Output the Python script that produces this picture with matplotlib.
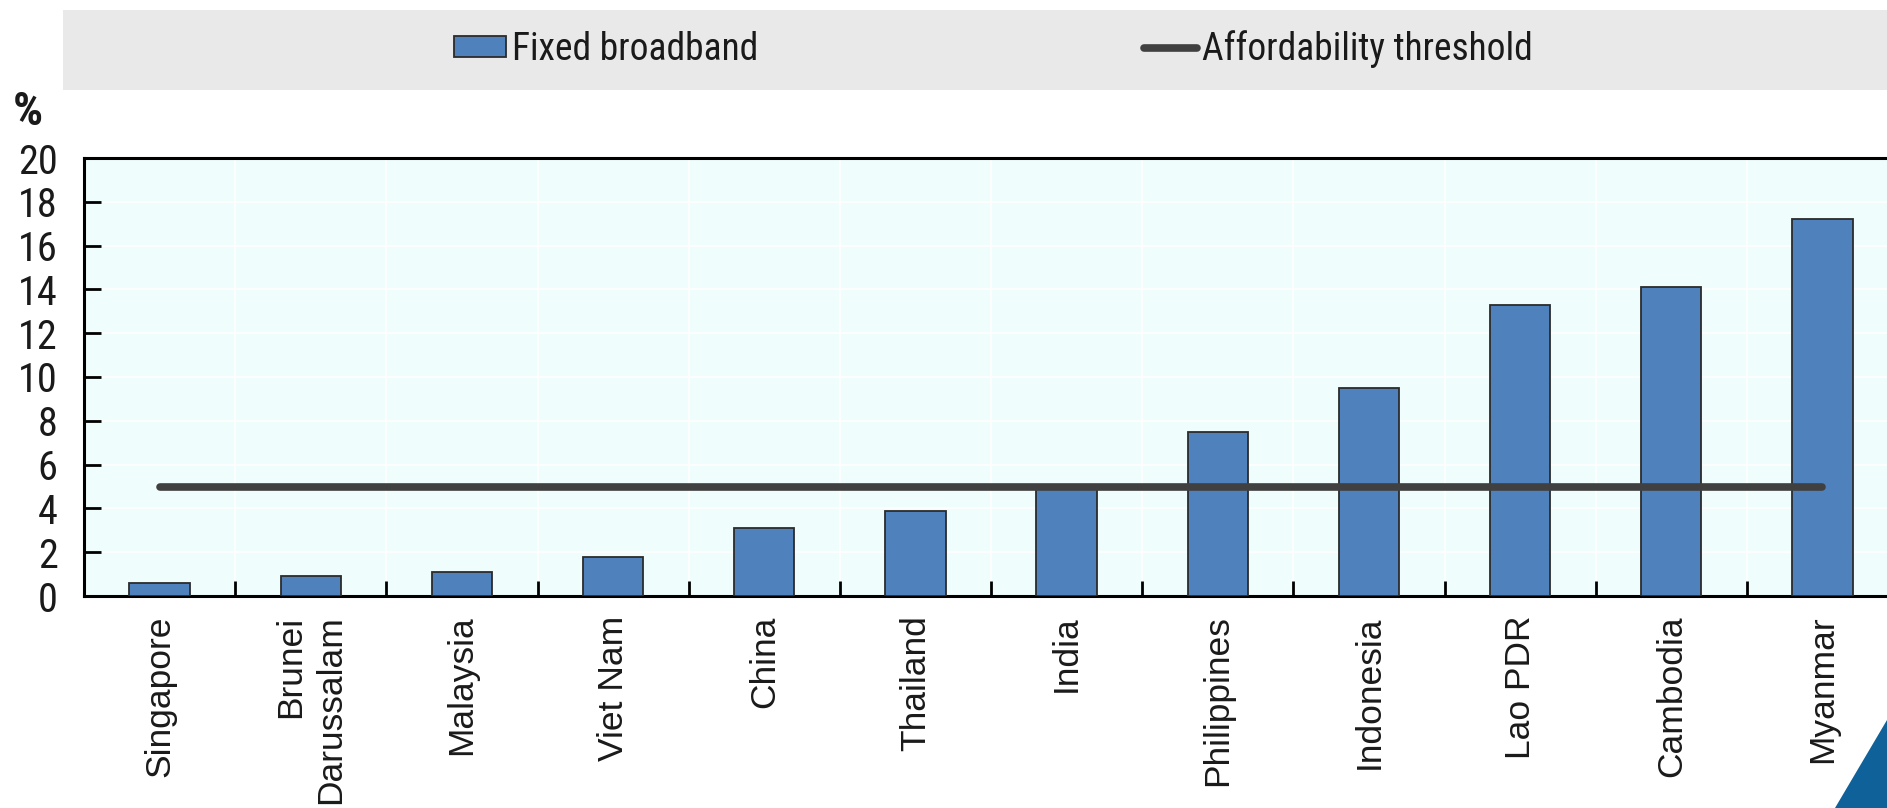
import matplotlib
matplotlib.use("Agg")
import matplotlib.pyplot as plt
from matplotlib.patches import Rectangle, Polygon, Patch
from matplotlib.lines import Line2D
from matplotlib.ticker import MultipleLocator

countries = ["Singapore", "Brunei\nDarussalam", "Malaysia", "Viet Nam", "China", "Thailand",
             "India", "Philippines", "Indonesia", "Lao PDR", "Cambodia", "Myanmar"]
fixed_broadband = [0.6, 0.9, 1.1, 1.8, 3.1, 3.9, 5.0, 7.5, 9.5, 13.3, 14.1, 17.2]
threshold = [5] * len(countries)

narrow = ["Roboto Condensed", "DejaVu Sans"]
regular = ["Liberation Sans", "DejaVu Sans"]
text_col = "#1a1a1a"

fig = plt.figure(figsize=(18.87, 8.08), dpi=100)

# grey legend band and corner mark
fig.patches.append(Rectangle((63 / 1887, 1 - 90 / 808), 1 - 63 / 1887, 80 / 808,
                             transform=fig.transFigure, facecolor="#e9e9e9",
                             edgecolor="none", zorder=0))
fig.patches.append(Polygon([(1835 / 1887, 0), (1, 0), (1, 88 / 808)], closed=True,
                           transform=fig.transFigure, facecolor="#0f6199",
                           edgecolor="none", zorder=5))

ax = fig.add_axes([84 / 1887, 212 / 808, 1814 / 1887, 438 / 808])
ax.set_facecolor("#f0fdfd")

x = range(len(countries))
ax.bar(x, fixed_broadband, width=0.4, color="#4f81bd", edgecolor="#2b2b2b",
       linewidth=1.3, zorder=3)
ax.plot(x, threshold, color="#404040", linewidth=5.5, solid_capstyle="round", zorder=4)

ax.set_xlim(-0.5, len(countries) - 0.5)
ax.set_ylim(0, 20)
ax.yaxis.set_major_locator(MultipleLocator(2))

ax.set_xticks(list(x))
ax.set_xticklabels(countries, rotation=90, family=regular, fontsize=25.5,
                   multialignment="right", linespacing=1.25, color=text_col)
ax.set_xticks([i + 0.5 for i in range(len(countries) - 1)], minor=True)
ax.tick_params(axis="x", which="major", length=0, pad=14)
ax.tick_params(axis="x", which="minor", direction="in", length=11, width=2, color="black")
ax.tick_params(axis="y", direction="in", length=12, width=2, pad=19)
for lbl in ax.get_yticklabels():
    lbl.set_family(narrow)
    lbl.set_fontsize(29)
    lbl.set_color(text_col)

ax.grid(True, which="minor", axis="x", color="white", linewidth=1.2, zorder=0)
ax.grid(True, which="major", axis="y", color="white", linewidth=1.2, zorder=0)
ax.set_axisbelow(True)

for side in ["left", "bottom", "top", "right"]:
    ax.spines[side].set_linewidth(2.2)
    ax.spines[side].set_color("black")

fig.text(13 / 1887, 1 - 112 / 808, "%", family=narrow, fontsize=34,
         fontweight="bold", va="center", ha="left", color=text_col)

handles = [Patch(facecolor="#4f81bd", edgecolor="#2b2b2b", linewidth=1.3),
           Line2D([0], [0], color="#404040", linewidth=5.5, solid_capstyle="round")]
leg = fig.legend(handles, ["Fixed broadband", "Affordability threshold"], ncol=2,
                 loc="center left", bbox_to_anchor=(420 / 1887, 1 - 49 / 808),
                 frameon=False, prop={"family": narrow, "size": 27},
                 handlelength=1.4, handleheight=0.5, handletextpad=0.15, columnspacing=10.3)
for t in leg.get_texts():
    t.set_color(text_col)

fig.savefig("out.png", dpi=100)
